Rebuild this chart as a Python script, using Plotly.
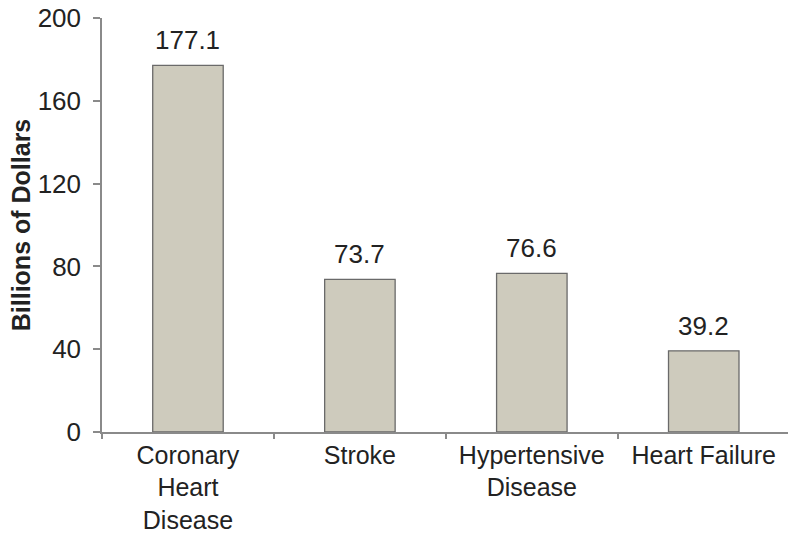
import plotly.graph_objects as go

categories = ["Coronary<br>Heart<br>Disease", "Stroke", "Hypertensive<br>Disease", "Heart Failure"]
costs = [177.1, 73.7, 76.6, 39.2]
y_ticks = [0, 40, 80, 120, 160, 200]

font_family = "Liberation Sans, Arial, sans-serif"
text_color = "#222222"
axis_color = "#8a8a8a"

fig = go.Figure(
    go.Bar(
        x=categories,
        y=costs,
        marker=dict(color="#cecbbd", line=dict(color="#6a6a6a", width=1.3)),
    )
)

# value labels sitting a little above each bar
for cat, val in zip(categories, costs):
    fig.add_annotation(
        x=cat,
        y=val,
        text=f"{val:.1f}",
        showarrow=False,
        yanchor="bottom",
        yshift=8,
        font=dict(size=26, color=text_color, family=font_family),
    )

fig.update_layout(
    width=788,
    height=534,
    margin=dict(l=102, r=0, t=18, b=102),
    paper_bgcolor="white",
    plot_bgcolor="white",
    bargap=0.59,
    showlegend=False,
    font=dict(family=font_family, color=text_color, size=26),
)

fig.update_xaxes(
    range=[-0.5, 3.49],
    automargin=False,
    showline=True,
    linecolor=axis_color,
    linewidth=1.5,
    ticks="outside",
    tickson="boundaries",
    ticklen=5,
    tickcolor=axis_color,
    tickwidth=1.5,
    tickfont=dict(size=25, color=text_color),
    showgrid=False,
)

fig.update_yaxes(
    range=[0, 200],
    automargin=False,
    tickvals=y_ticks,
    showline=True,
    linecolor=axis_color,
    linewidth=1.5,
    ticks="outside",
    ticklen=7,
    tickcolor=axis_color,
    tickwidth=1.5,
    ticklabelstandoff=7,
    tickfont=dict(size=26, color=text_color),
    showgrid=False,
    zeroline=False,
    title=dict(
        text="<b>Billions of Dollars</b>",
        font=dict(size=25, color=text_color),
        standoff=0,
    ),
)

fig.write_html("out.html")
